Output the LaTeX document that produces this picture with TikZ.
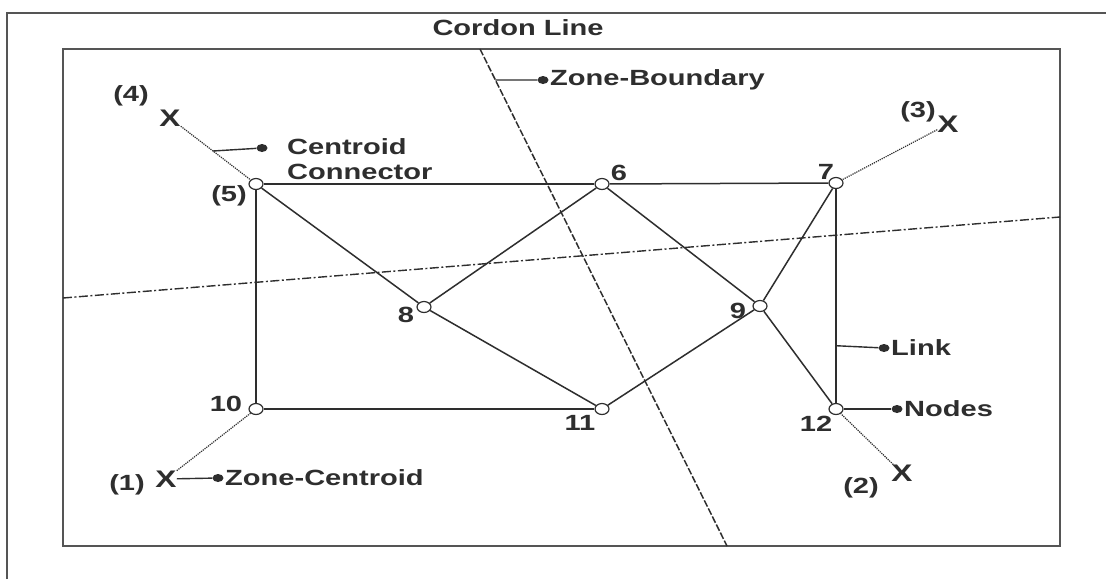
\documentclass[tikz,border=0pt]{standalone}
\usepackage{fontspec}
\newfontfamily\labfont[FakeStretch=1.32]{Liberation Sans}
\usetikzlibrary{shapes.geometric,calc}
\definecolor{ink}{HTML}{2e2e2e}
\definecolor{frame}{HTML}{555555}
\begin{document}
\begin{tikzpicture}[x=1pt,y=-1pt,
  font=\labfont\bfseries\fontsize{22}{26}\selectfont,
  every node/.style={text=ink},
  nd/.style={ellipse,draw=ink,fill=white,minimum width=14pt,minimum height=11pt,inner sep=0pt,line width=1.2pt},
  xm/.style={inner sep=0pt,font=\labfont\bfseries\fontsize{24}{26}\selectfont},
  lbl/.style={inner sep=0pt},
  txt/.style={inner sep=0pt,anchor=west},
  link/.style={draw=ink,line width=1.5pt},
  cc/.style={draw=ink,line width=1.2pt,densely dotted},
  call/.style={draw=ink,line width=1.4pt},
  dot/.style={ellipse,fill=ink,minimum width=11pt,minimum height=8pt,inner sep=0pt},
  cordon/.style={draw=ink,line width=1.5pt,dash pattern=on 7pt off 2pt},
  zoneb/.style={draw=ink,line width=1.4pt,dash pattern=on 9pt off 2.5pt on 2pt off 2.5pt}]
\useasboundingbox (0,0) rectangle (1106,579);
\fill[white] (0,0) rectangle (1106,579);
% frames
\draw[frame,line width=2pt] (7,579) -- (7,13) -- (1106,13);
\draw[frame,line width=2pt] (63,49) rectangle (1060,546);
% cordon and zone boundary
\coordinate (cA) at (480,49);
\coordinate (cB) at (727,546);
\coordinate (zA) at (63,298);
\coordinate (zB) at (1060,217);
\path[cordon] (cA) -- (cB);
\path[zoneb] (zA) -- (zB);
\node[lbl] (cl) at (518,28) {Cordon Line};
% network nodes
\node[nd] (n5) at (256,184) {};
\node[nd] (n6) at (602,184) {};
\node[nd] (n7) at (836,183) {};
\node[nd] (n8) at (424,307) {};
\node[nd] (n9) at (760,306) {};
\node[nd] (n10) at (256,409) {};
\node[nd] (n11) at (602,409) {};
\node[nd] (n12) at (836,409) {};
% links
\path[link] (n5) -- (n6);
\path[link] (n6) -- (n7);
\path[link] (n5) -- (n10);
\path[link] (n10) -- (n11);
\path[link] (n7) -- (n12);
\path[link] (n5) -- (n8);
\path[link] (n8) -- (n6);
\path[link] (n8) -- (n11);
\path[link] (n6) -- (n9);
\path[link] (n9) -- (n12);
\path[link] (n7) -- (n9);
\path[link] (n11) -- (n9);
% centroids
\node[xm] (c4) at (170,118) {X};
\node[xm] (c3) at (948,124) {X};
\node[xm] (c2) at (902,473) {X};
\node[xm] (c1) at (166,479) {X};
\path[cc] (c4) -- (n5);
\path[cc] (c3) -- (n7);
\path[cc] (c2) -- (n12);
\path[cc] (c1) -- (n10);
% node labels
\node[lbl] (l4) at (131,96) {(4)};
\node[lbl] (l3) at (918,112) {(3)};
\node[lbl] (l2) at (861,488) {(2)};
\node[lbl] (l1) at (127,485) {(1)};
\node[lbl] (l5) at (229,196) {(5)};
\node[lbl] (l6) at (619,173) {6};
\node[lbl] (l7) at (826,172) {7};
\node[lbl] (l8) at (406,315) {8};
\node[lbl] (l9) at (738,311) {9};
\node[lbl] (l10) at (226,404) {10};
\node[lbl] (l11) at (580,423) {11};
\node[lbl] (l12) at (816,424) {12};
% callouts
\coordinate (zbp) at ($(cA)!0.0624!(cB)$);
\node[dot] (dzb) at (543,80) {};
\path[call] (zbp) -- (dzb);
\node[txt] (tzb) at (550,80) {Zone-Boundary};

\coordinate (ccp) at ($(c4)!0.5!(n5)$);
\node[dot] (dcc) at (262,148) {};
\path[call] (ccp) -- (dcc);
\node[txt] (tcc1) at (287,147) {Centroid};
\node[txt] (tcc2) at (287,172) {Connector};

\node[dot] (dzc) at (218,478) {};
\path[call] (c1) -- (dzc);
\node[txt] (tzc) at (225,478) {Zone-Centroid};

\coordinate (lkp) at ($(n7)!0.72!(n12)$);
\node[dot] (dlk) at (884,348) {};
\path[call] (lkp) -- (dlk);
\node[txt] (tlk) at (891,348) {Link};

\node[dot] (dnd) at (897,409) {};
\path[call] (n12) -- (dnd);
\node[txt] (tnd) at (904,409) {Nodes};
\end{tikzpicture}
\end{document}
